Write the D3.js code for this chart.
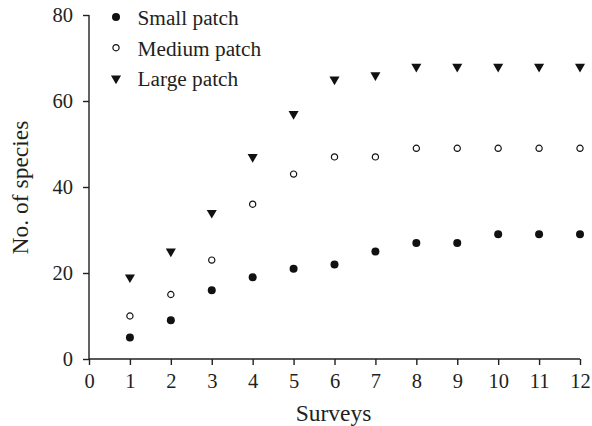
<!DOCTYPE html>
<html>
<head>
<meta charset="utf-8">
<script src="https://cdn.jsdelivr.net/npm/d3@7"></script>
<style>
  body { margin: 0; background: #fff; }
  svg { display: block; }
  text { font-family: "Liberation Serif", "Times New Roman", serif; fill: #231f20; }
</style>
</head>
<body>
<div id="chart"></div>
<script>
// Data
const surveys = [1, 2, 3, 4, 5, 6, 7, 8, 9, 10, 11, 12];
const smallPatch = [5, 9, 16, 19, 21, 22, 25, 27, 27, 29, 29, 29];
const mediumPatch = [10, 15, 23, 36, 43, 47, 47, 49, 49, 49, 49, 49];
const largePatch = [19, 25, 34, 47, 57, 65, 66, 68, 68, 68, 68, 68];
const xTicks = [0, 1, 2, 3, 4, 5, 6, 7, 8, 9, 10, 11, 12];
const yTicks = [0, 20, 40, 60, 80];
const seriesNames = ["Small patch", "Medium patch", "Large patch"];

const W = 592, H = 426;
const margin = { top: 15, right: 12, bottom: 67, left: 89 };
const width = W - margin.left - margin.right;
const height = H - margin.top - margin.bottom;

const svg = d3.select("#chart").append("svg")
    .attr("width", W)
    .attr("height", H);

const g = svg.append("g")
    .attr("transform", `translate(${margin.left},${margin.top})`);

const x = d3.scaleLinear().domain([0, 12]).range([0, width]);
const y = d3.scaleLinear().domain([0, 80]).range([height, 0]);

// Axes
const xAxis = g.append("g")
    .attr("transform", `translate(0,${height})`)
    .call(d3.axisBottom(x).tickValues(xTicks).tickSize(6).tickPadding(8).tickFormat(d3.format("d")));

const yAxis = g.append("g")
    .call(d3.axisLeft(y).tickValues(yTicks).tickSize(6).tickPadding(10).tickFormat(d3.format("d")));

[xAxis, yAxis].forEach(ax => {
    ax.select(".domain").attr("stroke", "#231f20").attr("stroke-width", 1.4);
    ax.selectAll(".tick line").attr("stroke", "#231f20").attr("stroke-width", 1.4);
    ax.selectAll(".tick text")
        .style("font-family", '"Liberation Serif", serif')
        .style("font-size", "20.5px")
        .attr("fill", "#231f20");
});
// plain axis lines, no outer end ticks
xAxis.select(".domain").attr("d", `M0,0H${width}`);
yAxis.select(".domain").attr("d", `M0,0V${height}`);

// Axis titles
svg.append("text")
    .attr("x", margin.left + width / 2 - 1)
    .attr("y", 421)
    .attr("text-anchor", "middle")
    .style("font-size", "23.5px")
    .text("Surveys");

svg.append("text")
    .attr("transform", "translate(28,187.5) rotate(-90)")
    .attr("text-anchor", "middle")
    .style("font-size", "23.5px")
    .text("No. of species");

// Marker drawing
const tri = d3.symbol().type(d3.symbolTriangle).size(44);

function drawMarker(sel, kind) {
    if (kind === 0) {
        sel.append("circle").attr("r", 4).attr("fill", "#111");
    } else if (kind === 1) {
        sel.append("circle").attr("r", 3.1).attr("fill", "#fff")
            .attr("stroke", "#111").attr("stroke-width", 1.2);
    } else {
        sel.append("path").attr("d", tri).attr("fill", "#111")
            .attr("transform", "rotate(180)");
    }
}

const allSeries = [smallPatch, mediumPatch, largePatch];
allSeries.forEach((vals, k) => {
    const pts = g.selectAll(`.pt${k}`)
        .data(surveys.map((s, i) => ({ s, v: vals[i] })))
        .enter()
        .append("g")
        .attr("class", `pt${k}`)
        .attr("transform", d => `translate(${x(d.s)},${y(d.v)})`);
    drawMarker(pts, k);
});

// Legend
const legend = svg.append("g").attr("transform", "translate(116,17)");
seriesNames.forEach((name, k) => {
    const row = legend.append("g").attr("transform", `translate(0,${k * 30.7})`);
    drawMarker(row, k);
    row.append("text")
        .attr("x", 21.5)
        .attr("y", 8)
        .style("font-size", "21.3px")
        .text(name);
});
</script>
</body>
</html>
